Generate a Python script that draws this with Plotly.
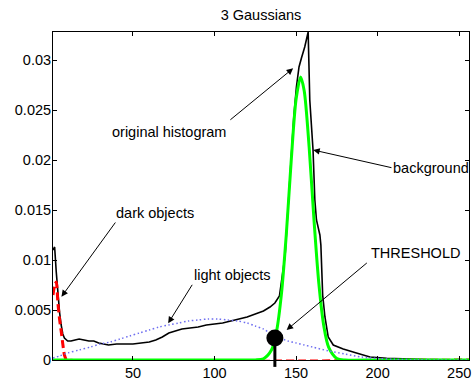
import plotly.graph_objects as go

# ---- data ----
hist_x = [1, 2, 3, 4, 5, 6, 7, 8, 9, 10, 12, 14, 17, 20, 23, 26, 29, 32, 35, 40, 45, 50, 55,
          60, 64, 68, 72, 76, 80, 85, 90, 95, 100, 105, 110, 115, 120, 125, 130, 134, 137,
          139.8, 141.5, 143.3, 145, 145.8, 147.2, 148.6, 150.2, 151.8, 153.3, 155.3, 157.4,
          158.4, 160.4, 161.5, 162.5, 163.6, 164.6, 165.2, 165.8, 166.3, 167.7, 169.7, 172.8,
          178.9, 187, 195.3, 205.5, 230, 256]
hist_y = [0.0110, 0.0113, 0.0088, 0.0066, 0.0048, 0.0035, 0.0026, 0.0022, 0.0020, 0.0019,
          0.0019, 0.0020, 0.0021, 0.0020, 0.0019, 0.0019, 0.0017, 0.0016, 0.0015, 0.0016,
          0.0016, 0.0016, 0.0017, 0.0018, 0.0020, 0.0023, 0.0027, 0.0029, 0.0031, 0.0032,
          0.0033, 0.0035, 0.0036, 0.0037, 0.0039, 0.0041, 0.0043, 0.0046, 0.0049, 0.0053,
          0.0057, 0.0064, 0.0085, 0.0105, 0.0150, 0.0173, 0.0210, 0.0243, 0.0273, 0.0293,
          0.0302, 0.0313, 0.0328, 0.0260, 0.0210, 0.0160, 0.0140, 0.0133, 0.0125, 0.0115,
          0.0090, 0.0065, 0.0043, 0.0023, 0.0015, 0.0011, 0.0007, 0.0003, 0.00017, 0.00005, 0.0]

dark_x = [1, 2, 3, 4, 5, 6, 7, 8, 9, 10, 256]
dark_y = [0.0065, 0.0075, 0.0078, 0.0057, 0.0041, 0.0029, 0.0016, 0.0005, 0.0001, 0.0, 0.0]

light_x = [1, 5, 10, 17, 24, 30, 36, 42, 48, 54, 60, 66, 72, 78, 84, 90, 96, 102, 108, 114,
           120, 125, 130, 135, 140, 145, 150, 155, 160, 170, 180, 190, 200, 210, 225, 256]
light_y = [0.0002, 0.0004, 0.0007, 0.0010, 0.0013, 0.0016, 0.0018, 0.0021, 0.0024, 0.0027,
           0.0030, 0.0033, 0.0035, 0.0037, 0.0039, 0.0040, 0.0041, 0.0041, 0.0040, 0.0039,
           0.0037, 0.0034, 0.0031, 0.0026, 0.0022, 0.0019, 0.0017, 0.0015, 0.0013, 0.0009,
           0.0006, 0.0003, 0.00015, 0.00007, 0.00002, 0.0]

bg_x = [1, 60, 120, 125, 130, 135, 138, 141, 144, 147, 150, 152.8, 155, 158, 161, 164, 167,
        170, 175, 180, 200, 256]
bg_y = [0.0, 0.0, 0.0, 0.00001, 0.00012, 0.00102, 0.00284, 0.00656, 0.01255, 0.01988,
        0.02606, 0.0283, 0.0269, 0.0213, 0.01397, 0.00758, 0.0034, 0.00127, 0.00016, 0.0,
        0.0, 0.0]

threshold_x = [137]
threshold_y = [0.0022]

x_ticks = [50, 100, 150, 200, 250]
y_ticks = [0, 0.005, 0.01, 0.015, 0.02, 0.025, 0.03]
y_tick_text = ["0", "0.005", "0.01", "0.015", "0.02", "0.025", "0.03"]

x_range = [1, 256]
y_range = [0, 0.0328]

FONT = "Liberation Sans, Arial, sans-serif"
FS = 14.5

fig = go.Figure()
fig.add_trace(go.Scatter(x=hist_x, y=hist_y, mode="lines",
                         line=dict(color="black", width=1.6), hoverinfo="skip"))
fig.add_trace(go.Scatter(x=dark_x, y=dark_y, mode="lines",
                         line=dict(color="rgb(255,0,0)", width=3, dash="8px,4px",
                                   shape="spline", smoothing=0.6), hoverinfo="skip"))
fig.add_trace(go.Scatter(x=bg_x, y=bg_y, mode="lines",
                         line=dict(color="rgb(0,255,0)", width=3, shape="spline",
                                   smoothing=0.8), hoverinfo="skip"))
fig.add_trace(go.Scatter(x=light_x, y=light_y, mode="lines",
                         line=dict(color="rgb(110,110,240)", width=1.5, dash="1.5px,2.5px",
                                   shape="spline", smoothing=0.8), hoverinfo="skip"))
fig.add_trace(go.Scatter(x=threshold_x, y=threshold_y, mode="markers",
                         marker=dict(color="black", size=17, line=dict(width=0)),
                         cliponaxis=False, hoverinfo="skip"))

# stem of the threshold marker, extending below the axis
fig.add_shape(type="line", xref="x", yref="paper",
              x0=threshold_x[0], x1=threshold_x[0],
              y0=-0.021, y1=threshold_y[0] / y_range[1],
              line=dict(color="black", width=3))

labels = [
    ("original histogram", 72.0, 0.02285),
    ("background", 232.7, 0.0192),
    ("dark objects", 63.4, 0.01473),
    ("light objects", 110.9, 0.0085),
    ("THRESHOLD", 222.9, 0.01067),
]
for txt, lx, ly in labels:
    fig.add_annotation(x=lx, y=ly, xref="x", yref="y", text=txt, showarrow=False,
                       font=dict(family=FONT, size=FS, color="black"),
                       xanchor="center", yanchor="middle")

arrows = [
    # (tip_x, tip_y, tail_x, tail_y)
    (148.2, 0.02917, 108.8, 0.0239),
    (160.5, 0.0210, 209.4, 0.0192),
    (6.2, 0.00633, 39.9, 0.0139),
    (71.6, 0.00367, 86.9, 0.00767),
    (144.2, 0.0030, 194.3, 0.00983),
]
for tx, ty, sx, sy in arrows:
    fig.add_annotation(x=tx, y=ty, xref="x", yref="y", ax=sx, ay=sy, axref="x", ayref="y",
                       text="", showarrow=True, arrowhead=2, arrowsize=1.3, arrowwidth=1,
                       arrowcolor="black", standoff=0, startstandoff=0,
                       font=dict(size=1))

axis_common = dict(showgrid=False, zeroline=False, showline=True, linecolor="black",
                   linewidth=1, ticks="inside", ticklen=4, tickcolor="black",
                   mirror="ticks", automargin=False,
                   tickfont=dict(family=FONT, size=FS, color="black"))

fig.update_layout(
    width=473, height=381,
    margin=dict(l=53, r=4, t=32, b=21, autoexpand=False),
    paper_bgcolor="white", plot_bgcolor="white",
    showlegend=False,
    title=dict(text="3 Gaussians", x=0.5, xref="paper", xanchor="center",
               y=1 - 15 / 381, yanchor="middle",
               font=dict(family=FONT, size=FS, color="black")),
    xaxis=dict(range=x_range, tickvals=x_ticks, ticklabelstandoff=0, **axis_common),
    yaxis=dict(range=y_range, tickvals=y_ticks, ticktext=y_tick_text,
               ticklabelstandoff=-2, **axis_common),
)

fig.write_html("out.html", config={"displayModeBar": False},
               post_script="document.body.style.margin='0';document.body.style.overflow='hidden';")
